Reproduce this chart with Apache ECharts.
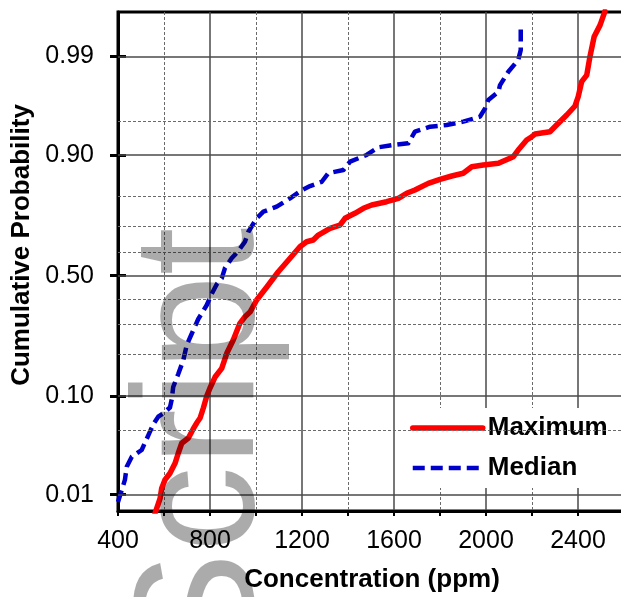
<!DOCTYPE html>
<html>
<head>
<meta charset="utf-8">
<script src="https://cdn.jsdelivr.net/npm/echarts@6/dist/echarts.min.js"></script>
<style>
html,body{margin:0;padding:0;background:#fff;}
#chart{width:621px;height:597px;}
</style>
</head>
<body>
<div id="chart"></div>
<script>
// ---- data ----
const medianPpm = [400,430,438,460,503,539,554,575,597,626,634,640,662,684,699,720,749,786,807,830,851,865,894,923,952,967,1003,1032,1090,1148,1199,1235,1286,1314,1380,1409,1481,1532,1597,1662,1691,1757,1829,1901,1974,1996,2010,2054,2061,2097,2140,2151,2151];
const medianProb = [0.0081,0.0150,0.0212,0.0272,0.0320,0.0487,0.0575,0.0670,0.0718,0.0806,0.0950,0.1184,0.148,0.185,0.2305,0.2676,0.3224,0.3775,0.4227,0.4645,0.4885,0.532,0.573,0.603,0.6406,0.6794,0.7287,0.7514,0.768,0.794,0.818,0.8294,0.8406,0.8615,0.869,0.8869,0.900,0.9135,0.9173,0.920,0.9368,0.9432,0.9452,0.949,0.9543,0.9622,0.9689,0.9746,0.9785,0.9848,0.989,0.9917,0.9961];
const maximumPpm = [561,583,590,604,626,648,662,677,706,727,742,757,771,786,800,822,851,873,901,930,952,974,1003,1047,1097,1148,1191,1220,1249,1271,1322,1365,1387,1430,1467,1503,1568,1619,1655,1691,1749,1800,1851,1901,1938,1988,2054,2119,2140,2177,2199,2213,2278,2307,2351,2387,2401,2416,2438,2452,2470,2496,2517];
const maximumProb = [0.0058,0.0090,0.0120,0.0150,0.0179,0.0231,0.0296,0.0375,0.0423,0.0517,0.0587,0.0652,0.0799,0.1005,0.1163,0.1407,0.1624,0.2047,0.247,0.3061,0.331,0.3494,0.3978,0.4518,0.5164,0.573,0.6206,0.6406,0.6473,0.6668,0.6922,0.7044,0.7287,0.746,0.7627,0.7734,0.7838,0.7942,0.809,0.8183,0.8365,0.8468,0.855,0.8615,0.8763,0.880,0.8836,0.8967,0.9089,0.9251,0.9299,0.9337,0.9368,0.9452,0.956,0.9642,0.9713,0.9803,0.9834,0.990,0.9944,0.9961,0.9975];
const yTickProbs = [0.01,0.10,0.50,0.90,0.99];
const yTickLabels = ['0.01','0.10','0.50','0.90','0.99'];
const yMinorProbs = [0.05,0.2,0.3,0.4,0.6,0.7,0.8,0.95];
const seriesNames = ['Maximum','Median'];
const xTitle = 'Concentration (ppm)';
const yTitle = 'Cumulative Probability';
const watermark = 'Script';

// ---- normal probability scale (inverse normal CDF) ----
function probit(p){
  const a=[-3.969683028665376e+01,2.209460984245205e+02,-2.759285104469687e+02,1.383577518672690e+02,-3.066479806614716e+01,2.506628277459239e+00];
  const b=[-5.447609879822406e+01,1.615858368580409e+02,-1.556989798598866e+02,6.680131188771972e+01,-1.328068155288572e+01];
  const c=[-7.784894002430293e-03,-3.223964580411365e-01,-2.400758277161838e+00,-2.549732539343734e+00,4.374664141464968e+00,2.938163982698783e+00];
  const d=[7.784695709041462e-03,3.224671290700398e-01,2.445134137142996e+00,3.754408661907416e+00];
  const pl=0.02425, ph=1-pl;
  let q,r;
  if(p<pl){q=Math.sqrt(-2*Math.log(p));return (((((c[0]*q+c[1])*q+c[2])*q+c[3])*q+c[4])*q+c[5])/((((d[0]*q+d[1])*q+d[2])*q+d[3])*q+1);}
  if(p<=ph){q=p-0.5;r=q*q;return (((((a[0]*r+a[1])*r+a[2])*r+a[3])*r+a[4])*r+a[5])*q/(((((b[0]*r+b[1])*r+b[2])*r+b[3])*r+b[4])*r+1);}
  q=Math.sqrt(-2*Math.log(1-p));return -(((((c[0]*q+c[1])*q+c[2])*q+c[3])*q+c[4])*q+c[5])/((((d[0]*q+d[1])*q+d[2])*q+d[3])*q+1);
}
const yTickZ = yTickProbs.map(probit);
const yMinorZ = yMinorProbs.map(probit);
function labelFor(v){
  const i = yTickZ.findIndex(z => Math.abs(z - v) < 1e-6);
  return i >= 0 ? yTickLabels[i] : '';
}

const FONT = '"Liberation Sans", Arial, sans-serif';
const chart = echarts.init(document.getElementById('chart'), null, {renderer:'canvas'});

const gridLines = [];
yTickZ.forEach(z => gridLines.push({yAxis: z, lineStyle:{type:'solid', color:'#4a4a4a', width:1.5}}));
yMinorZ.forEach(z => gridLines.push({yAxis: z, lineStyle:{type:[3,2], color:'#6a6a6a', width:1}}));

const redStyle = {color:'#ff0000', width: 5.5, cap:'round', join:'round'};
const blueStyle = {color:'#0000cc', width: 4.5, type: [12, 6], cap:'butt', join:'round'};

const option = {
  animation: false,
  backgroundColor: '#fff',
  grid: {
    left: 118, top: 12, width: 506, height: 499,
    show: true, borderColor: '#000', borderWidth: 3, backgroundColor: 'transparent',
    containLabel: false, outerBoundsMode: 'none'
  },
  xAxis: {
    type: 'value', min: 400, max: 2600, interval: 400,
    axisLine: {show: true, onZero: false, lineStyle: {color:'#000', width:3}},
    axisTick: {show: true, length: 5, lineStyle: {color:'#000', width:2}},
    minorTick: {show: true, splitNumber: 2, length: 5, lineStyle: {color:'#000', width:2}},
    splitLine: {show: true, lineStyle: {color:'#4a4a4a', width:1.5}},
    minorSplitLine: {show: true, lineStyle: {color:'#6a6a6a', width:1, type:[3,2]}},
    axisLabel: {
      margin: 18, color:'#000', fontSize: 25, fontFamily: FONT,
      formatter: v => (v >= 2600 ? '' : String(v))
    }
  },
  yAxis: [{
    type: 'value', min: -2.5, max: 2.8,
    axisLine: {show: true, onZero: false, lineStyle: {color:'#000', width:3}},
    axisTick: {show: true, customValues: yTickZ, length: 8, lineStyle: {color:'#000', width:3}},
    splitLine: {show: false},
    axisLabel: {show: true, customValues: yTickZ, formatter: labelFor, margin: 24, color:'#000', fontSize: 25, fontFamily: FONT}
  },{
    type: 'value', min: -2.5, max: 2.8, position: 'left', offset: 0,
    axisLine: {show: false},
    axisTick: {show: true, inside: true, customValues: yTickZ, length: 8, lineStyle: {color:'#000', width:3}},
    splitLine: {show: false},
    axisLabel: {show: false}
  }],
  legend: {
    orient: 'vertical', left: 405, top: 408,
    padding: [5, 10, 5, 5], itemGap: 10,
    itemWidth: 70, itemHeight: 14,
    backgroundColor: '#fff',
    itemStyle: {opacity: 0},
    data: [
      {name: seriesNames[0], itemStyle: {opacity: 0}, lineStyle: {width: 5.5, color:'#ff0000', cap:'round'}},
      {name: seriesNames[1], itemStyle: {opacity: 0}, lineStyle: {width: 4.5, color:'#0000cc', type:[12,6]}}
    ],
    textStyle: {fontSize: 26, fontWeight: 'bold', color:'#000', fontFamily: FONT, lineHeight: 30}
  },
  graphic: [
    {
      type: 'text', x: 22, y: 245, rotation: Math.PI/2, z: 10,
      style: {text: yTitle, font: 'bold 26px ' + FONT, fill:'#000', textAlign:'center', textVerticalAlign:'middle'}
    },
    {
      type: 'text', x: 372, y: 580, z: 10,
      style: {text: xTitle, font: 'bold 26px ' + FONT, fill:'#000', textAlign:'center', textVerticalAlign:'middle'}
    },
    {
      type: 'text', x: 206, y: 667, rotation: Math.PI/2, z: 100, silent: true,
      style: {text: watermark, font: 'normal 172px ' + FONT, fill:'rgba(0,0,0,0.33)', textAlign:'left', textVerticalAlign:'middle'}
    }
  ],
  series: [
    {
      name: '__grid', type: 'line', data: [], silent: true, z: 1,
      markLine: {silent: true, symbol: ['none','none'], label: {show:false}, animation:false, data: gridLines}
    },
    {
      name: seriesNames[0], type: 'line', z: 3, showSymbol: false, symbol: 'none', clip: true,
      data: maximumPpm.map((x, i) => [x, probit(maximumProb[i])]),
      lineStyle: redStyle,
      itemStyle: {color:'#ff0000'}
    },
    {
      name: seriesNames[1], type: 'line', z: 4, showSymbol: false, symbol: 'none', clip: true,
      data: medianPpm.map((x, i) => [x, probit(medianProb[i])]),
      lineStyle: blueStyle,
      itemStyle: {color:'#0000cc'}
    }
  ]
};
chart.setOption(option);
</script>
</body>
</html>
